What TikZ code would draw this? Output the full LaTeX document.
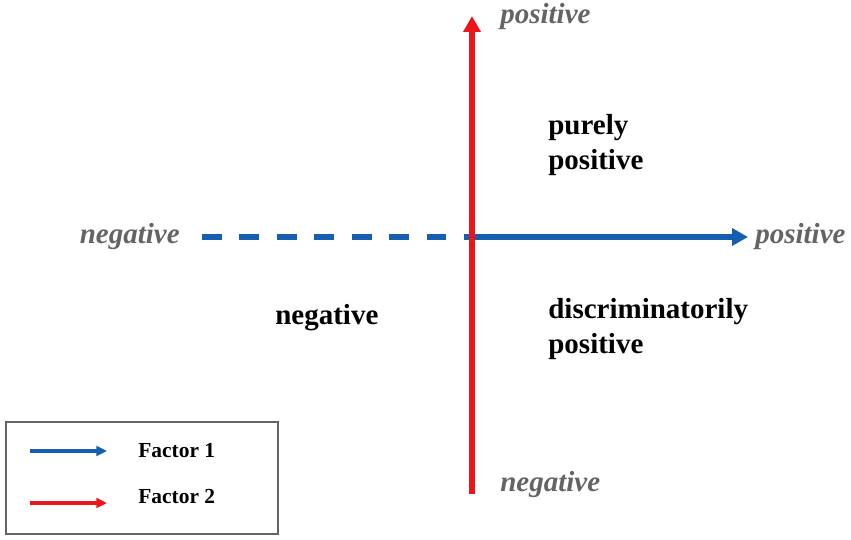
\documentclass[tikz,border=0pt]{standalone}
\usepackage{fontspec}
\setmainfont{Liberation Serif}
\usetikzlibrary{arrows.meta}
\definecolor{axisblue}{RGB}{22,94,176}
\definecolor{axisred}{RGB}{236,22,26}
\definecolor{endgray}{RGB}{100,100,100}
\tikzset{
  endlabel/.style={text=endgray,font=\fontsize{16.5}{18}\selectfont\bfseries\itshape,inner sep=0pt},
  zonelabel/.style={font=\fontsize{16.5}{20}\selectfont\bfseries,align=left,inner sep=0pt},
  keylabel/.style={font=\fontsize{12.2}{14}\selectfont\bfseries,inner sep=0pt,anchor=west},
  axisarrow/.style={line width=3pt,-{Triangle[length=9pt,width=9.5pt]}},
  keyarrow/.style={line width=1.9pt,-{Triangle[length=6pt,width=5.5pt]}}
}
\begin{document}
\begin{tikzpicture}[x=0.02cm,y=-0.02cm]
\useasboundingbox (0,0) rectangle (851,540);
% axes ends
\coordinate (o) at (472,237);
\coordinate (xl) at (202,237);
\coordinate (xr) at (748,237);
\coordinate (yb) at (472,494);
\coordinate (yt) at (472,16);
\node[endlabel,anchor=east] (xneg) at (180,237) {negative};
\node[endlabel,anchor=west] (xpos) at (755,237) {positive};
\node[endlabel,anchor=west] (ypos) at (500,17) {positive};
\node[endlabel,anchor=west] (yneg) at (500,485) {negative};
% Factor 1
\draw[axisblue,line width=2.9pt,dash pattern=on 11.3pt off 10pt] (xl) -- (o);
\draw[axisblue,axisarrow] (o) -- (xr);
% Factor 2
\draw[axisred,axisarrow,line width=3.2pt] (yb) -- (yt);
% quadrants
\node[zonelabel,anchor=west] (pure) at (548,145) {purely\\positive};
\node[zonelabel,anchor=west] (discr) at (548,329) {discriminatorily\\positive};
\node[zonelabel,anchor=west] (neg) at (275,318) {negative};
% legend
\node[draw=endgray,line width=1.2pt,minimum width=272*0.02cm,minimum height=112*0.02cm,anchor=north west,inner sep=0pt] (key) at (5,421) {};
\coordinate (k1a) at (30,451);
\coordinate (k1b) at (107,451);
\coordinate (k2a) at (30,503);
\coordinate (k2b) at (107,503);
\draw[axisblue,keyarrow] (k1a) -- (k1b);
\draw[axisred,keyarrow,line width=2.2pt] (k2a) -- (k2b);
\node[keylabel] (f1) at (138,451) {Factor 1};
\node[keylabel] (f2) at (138,497) {Factor 2};
\end{tikzpicture}
\end{document}
